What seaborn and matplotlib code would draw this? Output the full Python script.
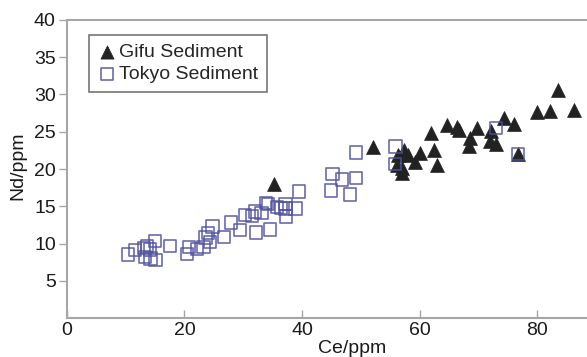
import numpy as np
import pandas as pd
import matplotlib
matplotlib.use("Agg")
import matplotlib.pyplot as plt
import seaborn as sns

sns.set_theme(style="white")
plt.rcParams['font.family'] = ['Liberation Sans', 'DejaVu Sans']

gifu_ce = [52.1, 62.0, 64.7, 66.4, 66.8, 69.7, 68.6, 68.5, 72.2, 74.4, 76.1, 72.0, 73.0,
           76.8, 80.0, 82.2, 83.5, 86.3, 57.4, 56.3, 58.1, 60.0, 59.2, 62.5, 62.9, 56.1,
           57.0, 57.0, 35.2]
gifu_nd = [22.9, 24.8, 25.9, 25.6, 25.2, 25.5, 24.1, 23.1, 25.1, 26.9, 26.0, 23.7, 23.4,
           22.0, 27.6, 27.8, 30.6, 27.9, 22.5, 21.9, 21.9, 22.1, 20.9, 22.6, 20.5, 20.5,
           20.2, 19.4, 18.0]

tokyo_ce = [10.4, 11.6, 13.1, 14.1, 15.0, 13.3, 14.2, 15.1, 13.6, 17.5, 20.4, 20.8, 22.1,
            23.2, 23.6, 24.0, 24.3, 24.8, 26.7, 27.9, 29.4, 30.3, 31.5, 32.0, 32.2, 33.1,
            33.9, 34.2, 34.6, 35.7, 36.4, 37.2, 37.3, 37.2, 38.9, 39.5, 44.9, 45.2, 46.8,
            48.2, 49.2, 49.2, 55.9, 55.8, 73.0, 76.8]
tokyo_nd = [8.5, 9.1, 9.4, 9.2, 10.3, 8.2, 8.0, 7.8, 9.6, 9.7, 8.6, 9.5, 9.3,
            9.5, 10.8, 11.4, 10.2, 12.3, 10.9, 12.8, 11.8, 13.8, 13.7, 14.3, 11.5, 14.1,
            15.4, 15.3, 11.9, 14.9, 14.8, 15.3, 13.6, 14.7, 14.7, 17.0, 17.1, 19.3, 18.6,
            16.6, 18.8, 22.2, 23.0, 20.7, 25.5, 22.0]

x_ticks = [0, 20, 40, 60, 80]
y_ticks = [5, 10, 15, 20, 25, 30, 35, 40]

gifu = pd.DataFrame({"Ce": gifu_ce, "Nd": gifu_nd})
tokyo = pd.DataFrame({"Ce": tokyo_ce, "Nd": tokyo_nd})

fig = plt.figure(figsize=(5.87, 3.57), dpi=100)
ax = fig.add_axes([0.1141, 0.1092, 0.8859, 0.8348])

axis_col = "#a6a6a6"
sq_col = "#5050a0"

sns.scatterplot(data=tokyo, x="Ce", y="Nd", ax=ax, marker="s", s=80,
                facecolor="none", edgecolor=sq_col, linewidth=1.2, alpha=0.85,
                label="Tokyo Sediment", zorder=3)
sns.scatterplot(data=gifu, x="Ce", y="Nd", ax=ax, marker="^", s=100,
                color="#222222", edgecolor="#222222", linewidth=0.5,
                label="Gifu Sediment", zorder=2)

ax.set_xlim(0, 88.5)
ax.set_ylim(0, 40)
ax.set_xticks(x_ticks)
ax.set_yticks(y_ticks)

for side in ["left", "bottom", "top"]:
    ax.spines[side].set_color(axis_col)
    ax.spines[side].set_linewidth(1.5)
ax.spines["right"].set_visible(False)

ax.tick_params(axis="x", direction="in", length=6, width=1, color=axis_col,
               labelsize=14, pad=3, labelcolor="#1a1a1a", bottom=True)
ax.tick_params(axis="y", direction="out", length=6, width=1, color=axis_col,
               labelsize=14, pad=2, labelcolor="#1a1a1a", left=True)

ax.set_xlabel("Ce/ppm", fontsize=14, color="#1a1a1a")
ax.set_ylabel("Nd/ppm", fontsize=14, color="#1a1a1a")
ax.xaxis.set_label_coords(0.548, -0.073)
ax.yaxis.set_label_coords(-0.078, 0.51)

handles, labels = ax.get_legend_handles_labels()
order = [labels.index("Gifu Sediment"), labels.index("Tokyo Sediment")]
leg = ax.legend([handles[i] for i in order], [labels[i] for i in order],
                loc="upper left", bbox_to_anchor=(0.042, 0.95), fontsize=14,
                frameon=True, fancybox=False, edgecolor="#555555",
                handletextpad=0.1, handlelength=1.0, borderpad=0.45,
                labelspacing=0.2, borderaxespad=0.0, markerscale=0.95)
leg.get_frame().set_linewidth(1.2)

fig.savefig("out.png", dpi=100)
